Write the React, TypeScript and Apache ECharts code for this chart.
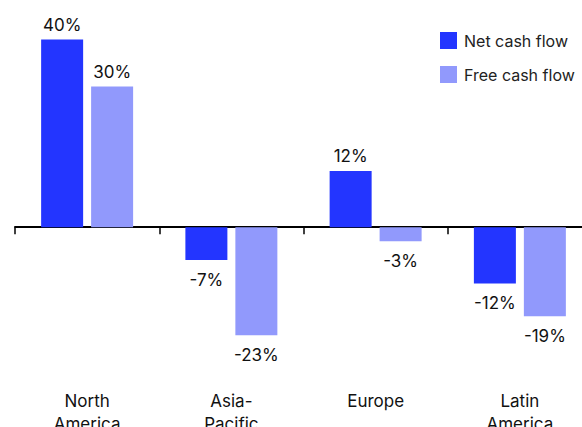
import React, { useEffect, useRef } from "react";
import * as echarts from "echarts";

const categories = ["North\nAmerica", "Asia-\nPacific", "Europe", "Latin\nAmerica"];
const netCashFlow = [40, -7, 12, -12];
const freeCashFlow = [30, -23, -3, -19];
const seriesNames = ["Net cash flow", "Free cash flow"];

const FONT = "Inter, 'Noto Sans', sans-serif";

export default function App() {
  const ref = useRef<HTMLDivElement>(null);
  useEffect(() => {
    document.body.style.margin = "0";
    const chart = echarts.init(ref.current!, null, { renderer: "svg" });
    const baseLabel = {
      show: true,
      fontFamily: FONT,
      fontSize: 17,
      color: "#111",
      formatter: (p: any) => `${p.value}%`,
    };
    const mkData = (arr: number[]) =>
      arr.map((v) => ({
        value: v,
        label: v >= 0 ? { position: "top", distance: 6 } : { position: "bottom", distance: 11 },
      }));
    chart.setOption({
      animation: false,
      grid: { left: 15, width: 577, top: 16, bottom: 59, outerBoundsMode: "none", containLabel: false },
      legend: {
        orient: "vertical",
        left: 435,
        top: 27,
        itemWidth: 17,
        itemHeight: 17,
        itemGap: 17,
        icon: "rect",
        textStyle: { fontFamily: FONT, fontSize: 16, color: "#222", padding: [0, 0, 0, 2] },
        data: seriesNames,
      },
      xAxis: [
        {
          type: "category",
          data: categories,
          axisLine: { onZero: true, lineStyle: { color: "#000", width: 2 } },
          axisTick: { show: true, length: 7, lineStyle: { color: "#000", width: 1.5 } },
          axisLabel: { show: false },
        },
        {
          type: "category",
          data: categories,
          position: "bottom",
          axisLine: { show: false, onZero: false },
          axisTick: { show: false },
          axisLabel: {
            margin: 21,
            fontFamily: FONT,
            fontSize: 17,
            lineHeight: 23,
            color: "#111",
            interval: 0,
          },
        },
      ],
      yAxis: {
        type: "value",
        show: false,
        min: -30,
        max: 45,
        splitLine: { show: false },
      },
      series: [
        {
          name: seriesNames[0],
          type: "bar",
          xAxisIndex: 0,
          data: mkData(netCashFlow),
          barWidth: 42,
          barGap: "19%",
          itemStyle: { color: "#2335FF" },
          label: baseLabel,
        },
        {
          name: seriesNames[1],
          type: "bar",
          xAxisIndex: 0,
          data: mkData(freeCashFlow),
          barWidth: 42,
          itemStyle: { color: "#9199FC" },
          label: baseLabel,
        },
      ],
    });
    return () => chart.dispose();
  }, []);
  return <div ref={ref} style={{ width: 582, height: 427 }} />;
}
